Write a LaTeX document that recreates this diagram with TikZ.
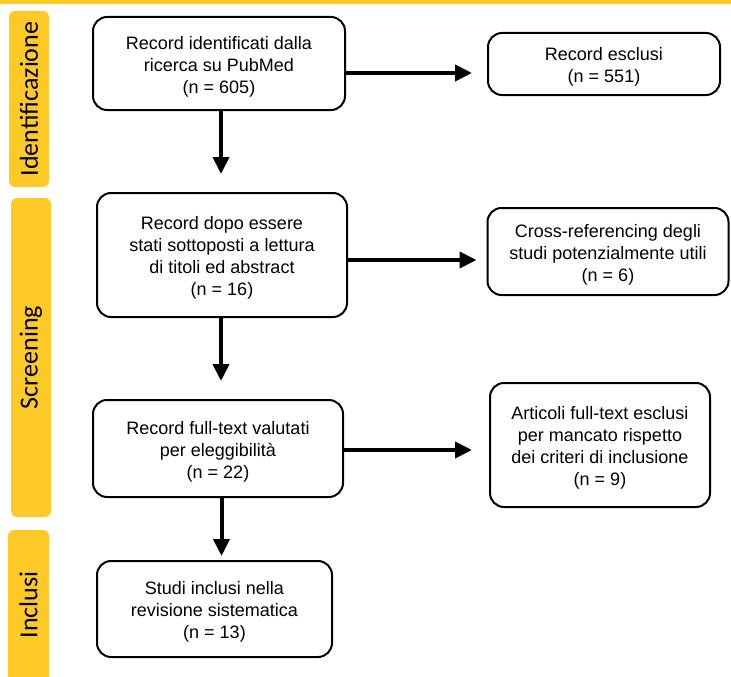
\documentclass[tikz,border=0pt]{standalone}
\usepackage{fontspec}
\setmainfont{Liberation Sans}
\newfontfamily\calib{Carlito}
\usetikzlibrary{arrows.meta,calc}
\definecolor{phase}{RGB}{255,201,39}
\newcommand\mystrut{\rule{0pt}{19.5pt}}
\begin{document}
\begin{tikzpicture}[x=1pt,y=-1pt,
  box/.style={draw,line width=2pt,rounded corners=14pt,align=center,
    font=\fontsize{18}{22}\selectfont,inner sep=0pt},
  lab/.style={fill=phase,rounded corners=6pt,inner sep=0pt,
    font=\calib\fontsize{26}{30}\selectfont,rotate=90},
  labtext/.style={font=\calib\fontsize{26}{30}\selectfont,rotate=90,inner sep=0pt},
  arr/.style={line width=4pt,-{Triangle[length=17pt,width=16pt]}}]
\useasboundingbox (0,0) rectangle (731,677);
\fill[phase] (0,0) rectangle (731,4);
% phase labels
\node[lab,minimum width=176pt,minimum height=40pt] (lid) at (29,99) {Identificazione};
\node[lab,minimum width=319pt,minimum height=40pt] (lsc) at (31,357.5) {Screening};
\fill[phase,rounded corners=6pt] (8,530) rectangle (49,700);
\node[labtext] (linc) at (28.5,605) {Inclusi};
% boxes
\node[box,minimum width=252pt,minimum height=93pt] (b1) at (219,63.5)
  {\mystrut Record identificati dalla\\ricerca su PubMed\\(n = 605)};
\node[box,minimum width=232pt,minimum height=62pt] (e1) at (604,64)
  {\mystrut Record esclusi\\(n = 551)};
\node[box,minimum width=250pt,minimum height=124pt] (b2) at (222,255)
  {\mystrut Record dopo essere\\stati sottoposti a lettura\\di titoli ed abstract\\(n = 16)};
\node[box,minimum width=241pt,minimum height=87pt] (e2) at (608,251.5)
  {\mystrut Cross-referencing degli\\studi potenzialmente utili\\(n = 6)};
\node[box,minimum width=250pt,minimum height=97pt] (b3) at (218,448.5)
  {\mystrut Record full-text valutati\\per eleggibilità\\(n = 22)};
\node[box,minimum width=220pt,minimum height=124pt] (e3) at (600,445)
  {\mystrut Articoli full-text esclusi\\per mancato rispetto\\dei criteri di inclusione\\(n = 9)};
\node[box,minimum width=235pt,minimum height=96pt] (b4) at (214.5,609)
  {\mystrut Studi inclusi nella\\revisione sistematica\\(n = 13)};
% horizontal arrows
\coordinate (h1) at ($(e1.west)+(-15,9)$);
\coordinate (h2) at ($(e2.west)+(-10,8.5)$);
\coordinate (h3) at ($(e3.west)+(-17,5)$);
\draw[arr] (b1.east |- h1) -- (h1);
\draw[arr] (b2.east |- h2) -- (h2);
\draw[arr] (b3.east |- h3) -- (h3);
% vertical arrows
\coordinate (v1) at ($(b2.north)+(-1,-18)$);
\coordinate (v2) at ($(b3.north)+(3,-18)$);
\coordinate (v3) at ($(b4.north)+(7,-4)$);
\draw[arr] (b1.south -| v1) -- (v1);
\draw[arr] (b2.south -| v2) -- (v2);
\draw[arr] (b3.south -| v3) -- (v3);
\end{tikzpicture}
\end{document}
